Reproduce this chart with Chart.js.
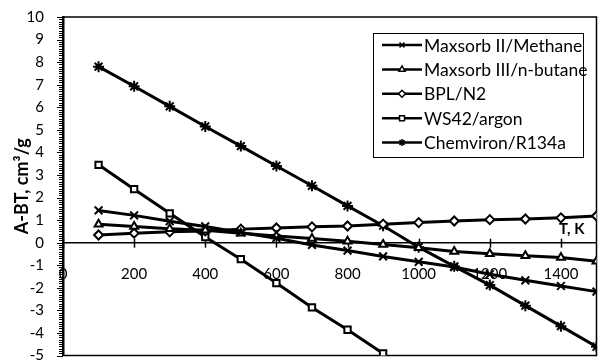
<!DOCTYPE html>
<html>
<head>
<meta charset="utf-8">
<script src="https://cdn.jsdelivr.net/npm/chart.js@4.4.1/dist/chart.umd.min.js"></script>
<style>
  html, body { margin: 0; padding: 0; background: #fff; }
  #wrap { width: 604px; height: 363px; }
</style>
</head>
<body>
<div id="wrap"><canvas id="chart" width="604" height="363"></canvas></div>
<script>
// ===== Data =====
const temps      = [100, 200, 300, 400, 500, 600, 700, 800, 900, 1000, 1100, 1200, 1300, 1400, 1500];
const maxsorb2   = [1.43, 1.21, 0.95, 0.72, 0.45, 0.20, -0.10, -0.35, -0.61, -0.85, -1.08, -1.40, -1.67, -1.92, -2.17];
const maxsorb3   = [0.82, 0.72, 0.62, 0.55, 0.42, 0.30, 0.19, 0.06, -0.08, -0.22, -0.39, -0.49, -0.58, -0.66, -0.82];
const bplN2      = [0.34, 0.42, 0.48, 0.52, 0.60, 0.65, 0.70, 0.74, 0.82, 0.89, 0.96, 1.02, 1.05, 1.10, 1.18];
const ws42       = [3.45, 2.37, 1.30, 0.25, -0.73, -1.79, -2.87, -3.86, -4.91];
const chemviron  = [7.80, 6.93, 6.04, 5.15, 4.28, 3.40, 2.52, 1.63, 0.75, -0.20, -1.05, -1.88, -2.79, -3.70, -4.61];
const seriesNames = ['Maxsorb II/Methane', 'Maxsorb III/n-butane', 'BPL/N2', 'WS42/argon', 'Chemviron/R134a'];
const xTicks     = [0, 200, 400, 600, 800, 1000, 1200, 1400];
const yTitle     = 'A-BT, cm\u00B3/g';
const xTitle     = 'T, K';

const FONT = 'Lato, "Open Sans", sans-serif';
const pts = vals => vals.map((v, i) => ({ x: temps[i], y: v }));

function series(label, vals, style) {
  return {
    label,
    data: pts(vals),
    borderColor: '#000',
    borderWidth: 3,
    pointStyle: style,
    pointRadius: style === 'crossRot' || style === 'star' ? 5.5 : 4.5,
    pointBorderWidth: 2,
    pointBackgroundColor: '#fff',
    pointBorderColor: '#000',
    tension: 0,
    fill: false
  };
}

const datasets = [
  series(seriesNames[0], maxsorb2, 'crossRot'),
  series(seriesNames[1], maxsorb3, 'triangle'),
  series(seriesNames[2], bplN2, 'rectRot'),
  series(seriesNames[3], ws42, 'rect'),
  series(seriesNames[4], chemviron, 'star')
];

// ===== Plugins =====
const frame = {
  id: 'frame',
  beforeDatasetsDraw(chart) {
    const { ctx, chartArea: a, scales } = chart;
    ctx.save();
    ctx.strokeStyle = '#000';
    ctx.lineWidth = 1.5;
    ctx.strokeRect(a.left, a.top, a.right - a.left, a.bottom - a.top);
    // y minor ticks
    const y = scales.y;
    ctx.lineWidth = 1;
    for (let v = -50; v <= 100; v++) {
      const py = Math.round(y.getPixelForValue(v / 10)) + 0.5;
      const len = v % 10 === 0 ? 6 : 4;
      ctx.beginPath();
      ctx.moveTo(a.left - len, py);
      ctx.lineTo(a.left, py);
      ctx.stroke();
    }
    // x ticks crossing the zero line
    const x = scales.x;
    const y0 = y.getPixelForValue(0);
    ctx.lineWidth = 1.5;
    xTicks.forEach(t => {
      const px = Math.round(x.getPixelForValue(t)) + 0.5;
      ctx.beginPath();
      ctx.moveTo(px, y0 - 4);
      ctx.lineTo(px, y0 + 5);
      ctx.stroke();
    });
    ctx.restore();
  },
  afterDraw(chart) {
    const { ctx, chartArea: a, scales } = chart;
    ctx.save();
    ctx.fillStyle = '#000';
    // axis titles
    ctx.font = 'bold 15px ' + FONT;
    ctx.textAlign = 'left';
    ctx.textBaseline = 'middle';
    ctx.fillText(xTitle, 559, scales.y.getPixelForValue(0) - 14);
    ctx.translate(22, (a.top + a.bottom) / 2);
    ctx.rotate(-Math.PI / 2);
    ctx.textAlign = 'center';
    ctx.font = 'bold 18px ' + FONT;
    ctx.fillText(yTitle, 0, 0);
    ctx.restore();

    // legend
    ctx.save();
    const bx = 373, by = 33, bw = 210, bh = 124;
    ctx.fillStyle = '#fff';
    ctx.fillRect(bx, by, bw, bh);
    ctx.strokeStyle = '#000';
    ctx.lineWidth = 1;
    ctx.strokeRect(bx + 0.5, by + 0.5, bw, bh);
    ctx.font = '17.5px ' + FONT;
    ctx.textBaseline = 'middle';
    ctx.textAlign = 'left';
    chart.data.datasets.forEach((ds, i) => {
      const ly = 45 + i * 24.4;
      ctx.strokeStyle = '#000';
      ctx.lineWidth = 2.5;
      ctx.beginPath();
      ctx.moveTo(382, ly);
      ctx.lineTo(422, ly);
      ctx.stroke();
      ctx.fillStyle = '#fff';
      ctx.lineWidth = 1.5;
      Chart.helpers.drawPoint(ctx, {
        pointStyle: ds.pointStyle, radius: 3.5, borderWidth: 1.5, rotation: 0
      }, 402, ly);
      ctx.fillStyle = '#000';
      ctx.fillText(ds.label, 424, ly + 1);
    });
    ctx.restore();
  }
};

new Chart(document.getElementById('chart'), {
  type: 'line',
  data: { datasets },
  options: {
    responsive: false,
    animation: false,
    devicePixelRatio: 1,
    layout: { padding: { top: 17, right: 2, bottom: 2, left: 0 } },
    plugins: { legend: { display: false }, tooltip: { enabled: false } },
    scales: {
      x: {
        type: 'linear',
        position: { y: 0 },
        min: 0,
        max: 1500,
        grid: { display: false },
        border: { display: true, color: '#000', width: 1.5 },
        ticks: {
          stepSize: 200,
          includeBounds: false,
          autoSkip: false,
          maxRotation: 0,
          padding: 14,
          color: '#000',
          font: { family: FONT, size: 15 },
          callback: v => String(v)
        },
        afterFit(s) { s.paddingLeft = 0; s.paddingRight = 0; }
      },
      y: {
        type: 'linear',
        min: -5,
        max: 10,
        grid: { display: false },
        border: { display: true, color: '#000', width: 2.5 },
        ticks: {
          stepSize: 1,
          autoSkip: false,
          padding: 11,
          color: '#000',
          font: { family: FONT, size: 15 }
        },
        afterFit(s) { s.width = 63; s.paddingTop = 0; s.paddingBottom = 0; }
      }
    }
  },
  plugins: [frame]
});
</script>
</body>
</html>
